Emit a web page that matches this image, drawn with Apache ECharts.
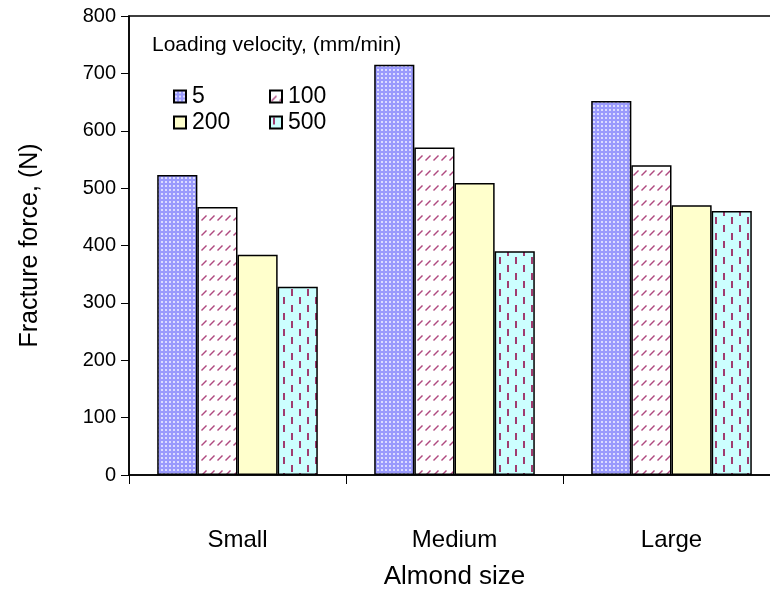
<!DOCTYPE html>
<html>
<head>
<meta charset="utf-8">
<script src="https://cdn.jsdelivr.net/npm/echarts@6/dist/echarts.min.js"></script>
<style>html,body{margin:0;padding:0;background:#fff;overflow:hidden;}#c{width:770px;height:592px;}</style>
</head>
<body>
<div id="c"></div>
<script>
const categories = ['Small', 'Medium', 'Large'];
const seriesNames = ['5', '100', '200', '500'];
const v5 = [523, 715, 652];
const v100 = [467, 571, 540];
const v200 = [384, 509, 470];
const v500 = [328, 390, 460];
const yTicks = [0, 100, 200, 300, 400, 500, 600, 700, 800];

function tile(w, h, draw) {
  const c = document.createElement('canvas');
  c.width = w; c.height = h;
  const g = c.getContext('2d');
  draw(g);
  return { image: c, repeat: 'repeat' };
}
const patDots = tile(4, 4, g => {
  g.fillStyle = '#9a9afc'; g.fillRect(0, 0, 4, 4);
  g.fillStyle = '#dcdcff'; g.fillRect(1, 1, 2, 2);
});
const patSlash = tile(8, 15, g => {
  g.fillStyle = '#ffffff'; g.fillRect(0, 0, 8, 15);
  g.strokeStyle = '#b04a80'; g.lineWidth = 1.4;
  g.beginPath(); g.moveTo(1.5, 10.5); g.lineTo(6.5, 5.5); g.stroke();
});
const patVert = tile(16, 16, g => {
  g.fillStyle = '#ccffff'; g.fillRect(0, 0, 16, 16);
  g.fillStyle = '#a03c70';
  g.fillRect(3, 1, 2, 7);
  g.fillRect(11, 9, 2, 7);
});
const fills = [patDots, patSlash, '#ffffcc', patVert];
const values = [v5, v100, v200, v500];

const chart = echarts.init(document.getElementById('c'), null, { renderer: 'canvas' });
const font = 'Liberation Sans, Arial, sans-serif';

const legendPos = [[173, 85], [269, 85], [173, 111], [269, 111]];
const legends = seriesNames.map((n, i) => ({
  data: [n], left: legendPos[i][0], top: legendPos[i][1],
  icon: 'rect', itemWidth: 12, itemHeight: 12, itemGap: 0,
  textStyle: { fontFamily: font, fontSize: 23, color: '#000', padding: [0, 0, 0, 1] },
  padding: 0
}));

chart.setOption({
  animation: false,
  backgroundColor: '#fff',
  title: {
    text: 'Loading velocity, (mm/min)', left: 147, top: 30,
    textStyle: { fontFamily: font, fontSize: 21, fontWeight: 'normal', color: '#000' }
  },
  legend: legends,
  grid: { left: 129, top: 16, width: 651, height: 459, outerBoundsMode: 'none', containLabel: false,
    show: true, borderColor: '#000', borderWidth: 1.5, backgroundColor: 'transparent' },
  xAxis: {
    type: 'category', data: categories,
    name: 'Almond size', nameLocation: 'middle', nameGap: 89,
    nameTextStyle: { fontFamily: font, fontSize: 26, color: '#000' },
    axisLine: { lineStyle: { color: '#000', width: 1.5 } },
    axisTick: { show: true, length: 9, alignWithLabel: false, lineStyle: { color: '#000' } },
    axisLabel: { fontFamily: font, fontSize: 24, color: '#000', margin: 53 }
  },
  yAxis: {
    type: 'value', min: 0, max: 800, interval: 100,
    name: 'Fracture force, (N)', nameLocation: 'middle', nameGap: 86,
    nameTextStyle: { fontFamily: font, fontSize: 25, color: '#000' },
    axisLine: { show: true, lineStyle: { color: '#000', width: 1.5 } },
    axisTick: { show: true, length: 8, lineStyle: { color: '#000' } },
    splitLine: { show: false },
    axisLabel: { fontFamily: font, fontSize: 20, color: '#000', margin: 13,
      formatter: v => yTicks.includes(v) ? String(v) : '' }
  },
  series: seriesNames.map((n, i) => ({
    name: n, type: 'bar', data: values[i],
    barGap: '0%', barCategoryGap: '26%',
    itemStyle: { color: fills[i], borderColor: '#000', borderWidth: 1.5 }
  }))
});
</script>
</body>
</html>
